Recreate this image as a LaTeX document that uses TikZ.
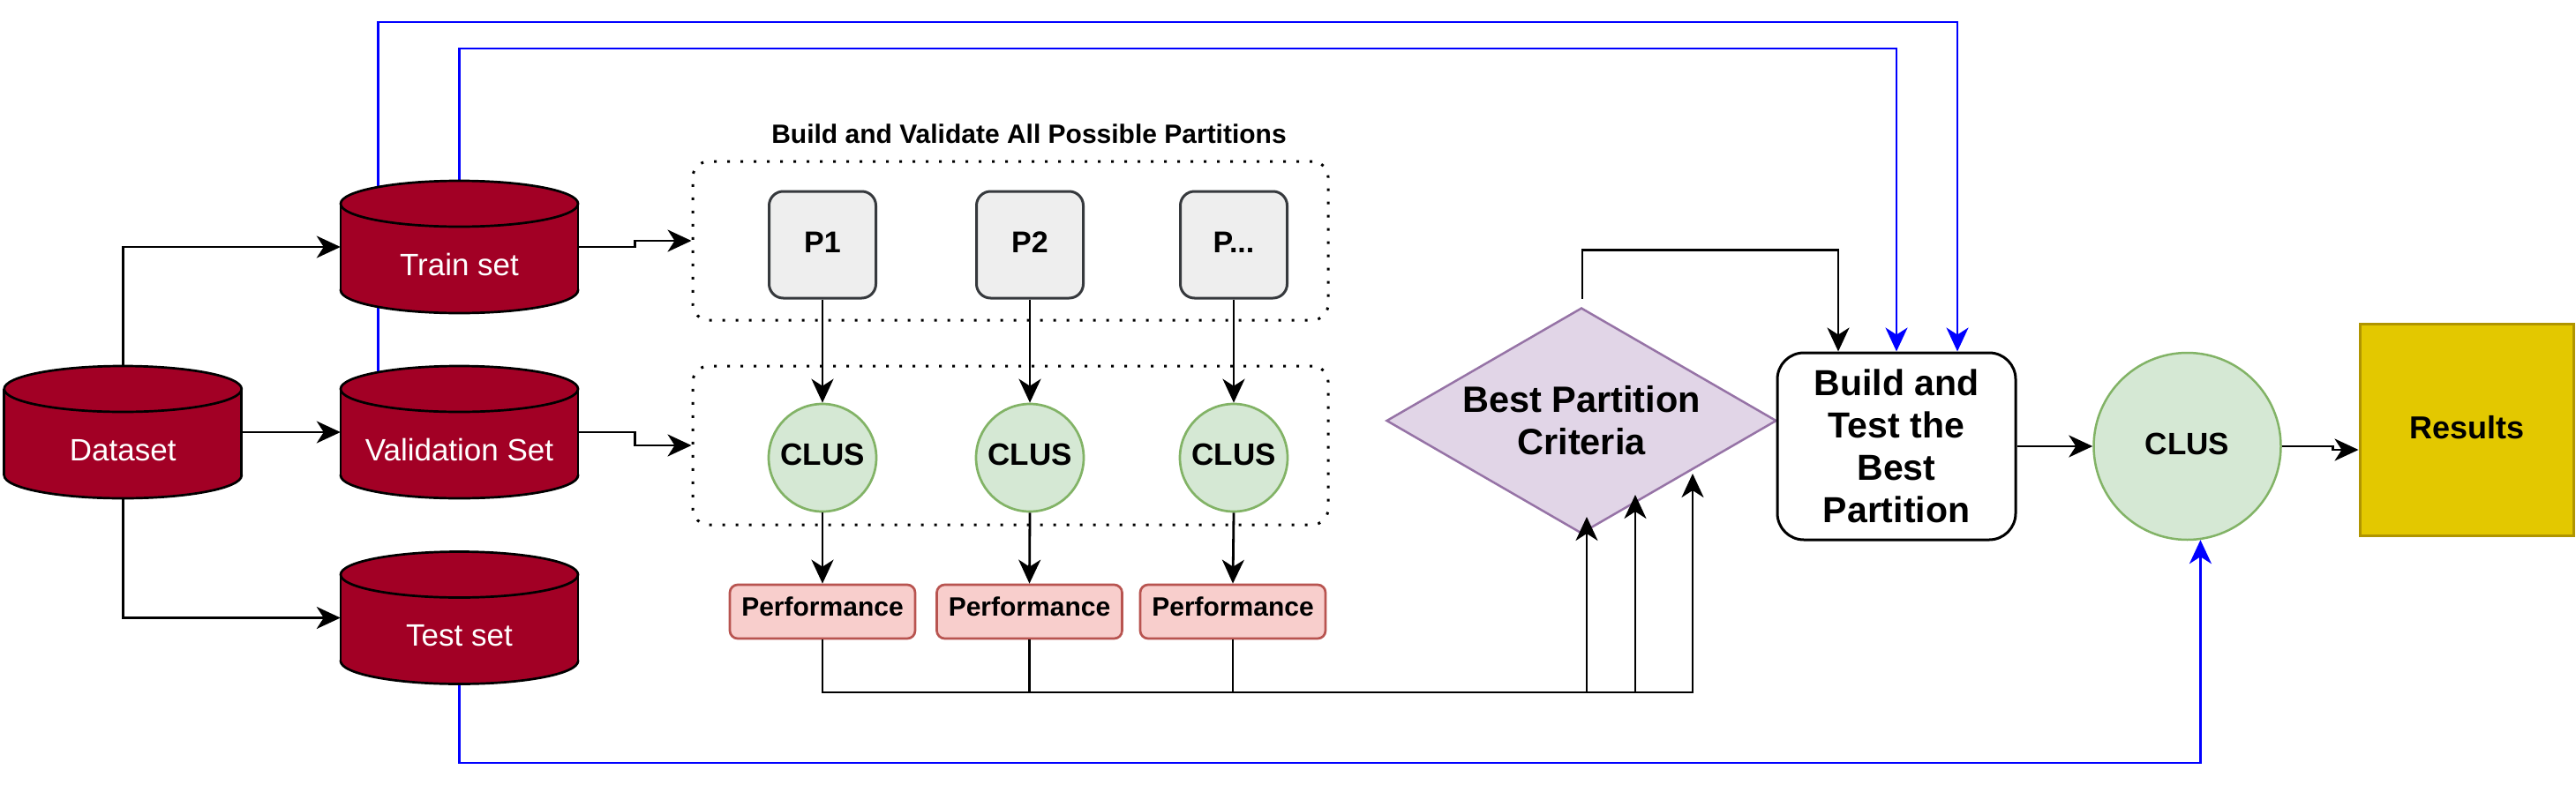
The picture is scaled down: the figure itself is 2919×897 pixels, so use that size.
\documentclass[tikz,border=0pt]{standalone}
\usepackage{fontspec}
\setmainfont{Liberation Sans}
\usetikzlibrary{arrows.meta,shapes.geometric,calc}
\definecolor{cylred}{HTML}{A20025}
\definecolor{pfill}{HTML}{EEEEEE}
\definecolor{pdraw}{HTML}{36393D}
\definecolor{gfill}{HTML}{D5E8D4}
\definecolor{gdraw}{HTML}{82B366}
\definecolor{rfill}{HTML}{F8CECC}
\definecolor{rdraw}{HTML}{B85450}
\definecolor{vfill}{HTML}{E1D5E7}
\definecolor{vdraw}{HTML}{9673A6}
\definecolor{yfill}{HTML}{E3C800}
\definecolor{ydraw}{HTML}{B09500}
\definecolor{linkblue}{HTML}{0000FF}
\pgfdeclarelayer{bg}
\pgfsetlayers{bg,main}
\newcommand\dbcyl[4]{%
  \filldraw[fill=cylred,draw=black,line width=2.7pt] (#2,#3+49) ellipse [x radius=134.5, y radius=26];
  \fill[cylred] (#2-134.5,#3-49) rectangle (#2+134.5,#3+49);
  \draw[black,line width=2.7pt] (#2-134.5,#3-49) -- (#2-134.5,#3+49) (#2+134.5,#3-49) -- (#2+134.5,#3+49);
  \filldraw[fill=cylred,draw=black,line width=2.7pt] (#2,#3-49) ellipse [x radius=134.5, y radius=26];
  \node[rectangle,inner sep=0pt,minimum width=269pt,minimum height=150pt] (#1) at (#2,#3) {};
  \node[cyltext,anchor=base] (#1txt) at (#2,#3+32) {#4};
}
\begin{document}
\begin{tikzpicture}[x=1pt,y=-1pt,
  tip/.style={-{Stealth[length=27pt,width=25pt,inset=8pt]}},
  conn/.style={draw=black,line width=2.8pt,tip},
  blueconn/.style={draw=linkblue,line width=2.7pt,tip},
  cyltext/.style={text=white,font=\fontsize{35}{42}\selectfont,inner sep=0pt},
  pbox/.style={rectangle,rounded corners=16pt,fill=pfill,draw=pdraw,line width=3pt,
    minimum width=121pt,minimum height=121pt,inner sep=0pt,text depth=5pt,
    font=\fontsize{34}{40}\selectfont\bfseries},
  clus/.style={circle,fill=gfill,draw=gdraw,line width=2.7pt,minimum size=122pt,inner sep=0pt,
    text depth=8pt,font=\fontsize{35}{42}\selectfont\bfseries},
  perf/.style={rectangle,rounded corners=9pt,fill=rfill,draw=rdraw,line width=2.7pt,
    minimum width=210pt,minimum height=61pt,inner sep=0pt,text depth=11pt,
    font=\fontsize{30}{36}\selectfont\bfseries},
  dotbox/.style={rectangle,rounded corners=18pt,draw=black,line width=3pt,
    dash pattern=on 3pt off 12pt,minimum width=720pt,minimum height=180pt,inner sep=0pt},
]
\useasboundingbox (0,0) rectangle (2919,897);

% databases
\dbcyl{dataset}{139.25}{490}{Dataset}
\dbcyl{train}{520.5}{280}{Train set}
\dbcyl{valid}{520.5}{490}{Validation Set}
\dbcyl{test}{520.5}{700.5}{Test set}

% partition area
\node[anchor=base,inner sep=0pt,font=\fontsize{30}{36}\selectfont\bfseries] (title) at (1166,162)
  {Build and Validate All Possible Partitions};
\node[dotbox] (box1) at (1145,273) {};
\node[dotbox] (box2) at (1145,505) {};

\node[pbox] (p1) at (932,277.5) {P1};
\node[pbox] (p2) at (1167,277.5) {P2};
\node[pbox] (p3) at (1398,277.5) {P...};

\node[clus] (c1) at (932,519) {CLUS};
\node[clus] (c2) at (1167,519) {CLUS};
\node[clus] (c3) at (1398,519) {CLUS};

\node[perf] (perf1) at (932,693.5) {Performance};
\node[perf] (perf2) at (1166.5,693.5) {Performance};
\node[perf] (perf3) at (1397,693.5) {Performance};

% decision and final
\node[diamond,aspect=1.727,minimum width=442pt,minimum height=256pt,inner sep=0pt,
  fill=vfill,draw=vdraw,line width=2.5pt,align=center,
  font=\fontsize{41.5}{48}\selectfont\bfseries] (crit) at (1792,477) {Best Partition\\Criteria};
\node[rectangle,rounded corners=30pt,fill=white,draw=black,line width=3pt,
  minimum width=270pt,minimum height=212pt,inner sep=0pt,align=center,
  font=\fontsize{41}{48}\selectfont\bfseries] (build) at (2149,506) {Build and\\Test the\\Best\\Partition};
\node[circle,fill=gfill,draw=gdraw,line width=2.5pt,minimum size=212pt,inner sep=0pt,text depth=6pt,
  font=\fontsize{35}{42}\selectfont\bfseries] (bigclus) at (2478.5,506) {CLUS};
\node[rectangle,fill=yfill,draw=ydraw,line width=3pt,minimum width=242pt,minimum height=240pt,
  inner sep=0pt,text depth=4.5pt,font=\fontsize{36}{42}\selectfont\bfseries] (results) at (2795,487) {Results};

% helper coordinates
\coordinate (ytop) at (0,25);
\coordinate (ytop2) at (0,55);
\coordinate (ybus) at (0,785);
\coordinate (ybot) at (0,865);
\coordinate (vtop) at ($(valid.north)+(-92,6.5)$);
\coordinate (in1) at ($(crit.center)+(6,109)$);
\coordinate (in2) at ($(crit.center)+(61,84)$);
\coordinate (in3) at ($(crit.center)+(126,60)$);
\coordinate (dtop) at ($(crit.north)+(1,-9)$);

% blue links (behind)
\begin{pgfonlayer}{bg}
\draw[blueconn] (vtop) -- (vtop |- ytop) -| ($(build.north)+(69,0)$);
\draw[blueconn] (train.north) -- (train.north |- ytop2) -| (build.north);
\draw[blueconn] (test.south) -- (test.south |- ybot) -| (bigclus.-82);
\end{pgfonlayer}

% black connectors
\draw[conn] (dataset.north) |- (train.west);
\draw[conn] (dataset.east) -- (valid.west);
\draw[conn] (dataset.south) |- (test.west);
\draw[conn] (train.east) -- ++(64,0) |- (box1.west);
\draw[conn] (valid.east) -- ++(64,0) |- (box2.west);

\draw[conn] (p1.south) -- (c1.north);
\draw[conn] (p2.south) -- (c2.north);
\draw[conn] (p3.south) -- (c3.north);
\draw[conn] (c1.south) -- (perf1.north);
\draw[conn] (c2.south) -- (perf2.north);
\draw[conn] (c3.south) -- (perf3.north);

\draw[conn] (perf1.south) |- (in1 |- ybus) -- (in1);
\draw[conn] (perf2.south) |- (in2 |- ybus) -- (in2);
\draw[conn] (perf3.south) |- (in3 |- ybus) -- (in3);

\draw[conn] (dtop) -- ++(0,-55) -| ($(build.north)+(-66,0)$);
\draw[conn] (build.east) -- (bigclus.west);
\draw[conn] (bigclus.east) -- ++(58,0) |- ($(results.west)+(0,23)$);
\end{tikzpicture}
\end{document}
